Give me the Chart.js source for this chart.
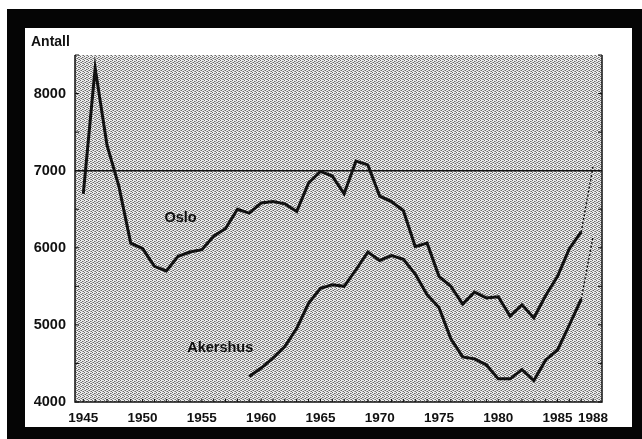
<!DOCTYPE html>
<html><head><meta charset="utf-8">
<script src="https://cdn.jsdelivr.net/npm/chart.js@4"></script>
<style>html,body{margin:0;padding:0;background:#fff}#wrap{width:642px;height:439px;position:relative}</style>
</head><body><div id="wrap"><canvas id="c" width="642" height="439"></canvas></div>
<script>
// ---- data ----
const years = [1945,1946,1947,1948,1949,1950,1951,1952,1953,1954,1955,1956,1957,1958,1959,1960,1961,1962,1963,1964,1965,1966,1967,1968,1969,1970,1971,1972,1973,1974,1975,1976,1977,1978,1979,1980,1981,1982,1983,1984,1985,1986,1987,1988];
const osloValues = [6700,8330,7330,6800,6060,5990,5760,5700,5890,5945,5975,6150,6250,6500,6450,6580,6600,6570,6470,6840,6990,6930,6700,7125,7075,6670,6600,6480,6015,6060,5630,5500,5270,5425,5350,5365,5115,5260,5090,5380,5630,5990,6205,7060];
const akershusValues = [null,null,null,null,null,null,null,null,null,null,null,null,null,null,4330,4440,4570,4720,4955,5280,5475,5520,5500,5715,5945,5835,5900,5850,5660,5390,5225,4820,4585,4560,4480,4300,4300,4420,4278,4545,4675,5000,5335,6150];
const xTickLabels = [1945,1950,1955,1960,1965,1970,1975,1980,1985,1988];
const yTickLabels = [4000,5000,6000,7000,8000];
const referenceValue = 7000;
const projectedYear = 1988;
const seriesNames = ['Oslo','Akershus'];
const yAxisTitle = 'Antall';

// label anchor points (data space)
const labelAnchors = [{x:1953.2,y:6390},{x:1956.55,y:4700}];

const FONT = '"Liberation Sans", Arial, sans-serif';

function toPoints(vals){
  return years.map((yr,i)=>({x:yr,y:vals[i]})).filter(p=>p.y!==null);
}

const dashSeg = {
  borderDash: ctx => ctx.p1.parsed.x === projectedYear ? [2,2] : undefined,
  borderWidth: ctx => ctx.p1.parsed.x === projectedYear ? 1.4 : undefined
};

let patternCache = null;
function getPattern(ctx){
  if (patternCache) return patternCache;
  const pc = document.createElement('canvas');
  pc.width = 4; pc.height = 4;
  const p = pc.getContext('2d');
  p.fillStyle = '#ececec'; p.fillRect(0,0,4,4);
  p.fillStyle = '#6a6a6a';
  [[0,0],[2,1],[1,2],[3,3]].forEach(([x,y])=>p.fillRect(x,y,1,1));
  p.fillStyle = '#a6a6a6';
  [[2,3],[3,1],[0,2]].forEach(([x,y])=>p.fillRect(x,y,1,1));
  patternCache = ctx.createPattern(pc,'repeat');
  return patternCache;
}

const decor = {
  id:'decor',
  beforeDraw(chart){
    const ctx = chart.ctx, W = chart.width, H = chart.height, a = chart.chartArea;
    ctx.save();
    ctx.fillStyle = '#fff'; ctx.fillRect(0,0,W,H);
    ctx.fillStyle = '#050505'; ctx.fillRect(7,9,W-7,H-9);
    ctx.fillStyle = '#fff'; ctx.fillRect(25,28,607,399);
    ctx.fillStyle = getPattern(ctx);
    ctx.fillRect(a.left,a.top,a.right-a.left,a.bottom-a.top);
    ctx.restore();
  },
  beforeDatasetsDraw(chart){
    const ctx = chart.ctx, a = chart.chartArea, ys = chart.scales.y;
    const py = ys.getPixelForValue(referenceValue);
    ctx.save();
    ctx.strokeStyle = '#111'; ctx.lineWidth = 1.5;
    ctx.beginPath(); ctx.moveTo(a.left,py); ctx.lineTo(a.right,py); ctx.stroke();
    ctx.restore();
  },
  afterDraw(chart){
    const ctx = chart.ctx, a = chart.chartArea, xs = chart.scales.x, ys = chart.scales.y;
    ctx.save();
    ctx.strokeStyle = '#111'; ctx.lineWidth = 1.5;
    ctx.beginPath();
    ctx.moveTo(a.left,a.top); ctx.lineTo(a.left,a.bottom); ctx.lineTo(a.right,a.bottom); ctx.lineTo(a.right,a.top);
    ctx.stroke();
    // minor ticks
    ctx.lineWidth = 1;
    ctx.beginPath();
    for (let v = ys.min; v <= ys.max; v += 500) {
      const py = ys.getPixelForValue(v);
      ctx.moveTo(a.left,py); ctx.lineTo(a.left+4,py);
      ctx.moveTo(a.right,py); ctx.lineTo(a.right-4,py);
    }
    years.forEach(yr => {
      const px = xs.getPixelForValue(yr);
      ctx.moveTo(px,a.bottom); ctx.lineTo(px,a.bottom-3);
    });
    ctx.stroke();
    // axis title
    ctx.fillStyle = '#111';
    ctx.font = 'bold 14px ' + FONT;
    ctx.textAlign = 'left'; ctx.textBaseline = 'middle';
    ctx.fillText(yAxisTitle, 31, 42);
    // series labels
    ctx.font = 'bold 14.5px ' + FONT;
    ctx.textAlign = 'center';
    seriesNames.forEach((n,i) => {
      const px = xs.getPixelForValue(labelAnchors[i].x);
      const py = ys.getPixelForValue(labelAnchors[i].y);
      ctx.fillText(n, px, py);
    });
    ctx.restore();
  }
};

new Chart(document.getElementById('c'), {
  type:'line',
  data:{
    datasets:[
      {label:seriesNames[0], data:toPoints(osloValues), borderColor:'#111', borderWidth:3, pointRadius:0, tension:0, fill:false, segment:dashSeg, borderJoinStyle:'miter'},
      {label:seriesNames[1], data:toPoints(akershusValues), borderColor:'#111', borderWidth:3, pointRadius:0, tension:0, fill:false, segment:dashSeg, borderJoinStyle:'miter'}
    ]
  },
  options:{
    responsive:false,
    animation:false,
    devicePixelRatio:1,
    layout:{padding:{left:0,top:55,right:40,bottom:0}},
    plugins:{legend:{display:false},tooltip:{enabled:false},title:{display:false}},
    scales:{
      x:{
        type:'linear', min:1944.3, max:1988.75,
        afterBuildTicks: s => { s.ticks = xTickLabels.map(v=>({value:v})); },
        afterFit: s => { s.height = 37; },
        grid:{display:false, drawTicks:false},
        border:{display:false},
        ticks:{autoSkip:false, maxRotation:0, padding:8, color:'#111', font:{family:FONT,size:13.5,weight:'bold'}, callback:v=>String(v)}
      },
      y:{
        type:'linear', min:4000, max:8500,
        afterBuildTicks: s => { s.ticks = yTickLabels.map(v=>({value:v})); },
        afterFit: s => { s.width = 75; },
        grid:{display:false, drawTicks:false},
        border:{display:false},
        ticks:{padding:9, color:'#111', font:{family:FONT,size:14.5,weight:'bold'}, callback:v=>String(v)}
      }
    }
  },
  plugins:[decor]
});
</script>
</body></html>
